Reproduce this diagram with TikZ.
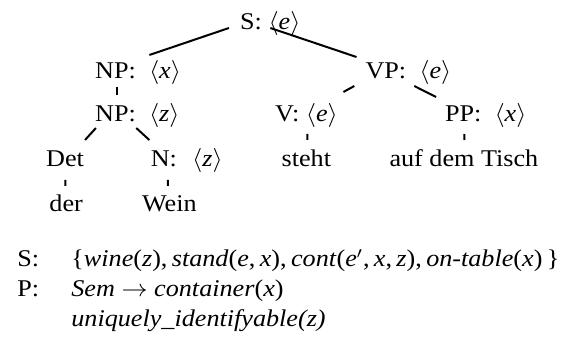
\documentclass[tikz,border=0pt]{standalone}
\usepackage{graphicx}
\usepackage{fontspec}
\setmainfont{Liberation Serif}
\newcommand{\ang}[1]{$\langle$\textit{#1}$\rangle$}
% text set slightly wide, as in the printed figure
\newcommand{\wide}[1]{\scalebox{1.09}[1]{#1}}
\begin{document}
\begin{tikzpicture}[x=0.5pt,y=-0.5pt,
  lbl/.style={anchor=base west,inner sep=0pt,font=\fontsize{12}{14}\selectfont},
  branch/.style={line width=1pt}]
\useasboundingbox (0,0) rectangle (570,337);

\begin{scope}[xscale=1.09]
% tree labels (left edge, baseline)
\node[lbl] (S)    at (220,30)  {\wide{S: \ang{e}}};
\node[lbl] (NPx)  at (87,78)   {\wide{NP:\hspace{6pt}\ang{x}}};
\node[lbl] (VP)   at (335,78)  {\wide{VP:\hspace{6pt}\ang{e}}};
\node[lbl] (NPz)  at (87,121)  {\wide{NP:\hspace{6pt}\ang{z}}};
\node[lbl] (V)    at (252,121) {\wide{V: \ang{e}}};
\node[lbl] (PP)   at (408,121) {\wide{PP:\hspace{6pt}\ang{x}}};
\node[lbl] (Det)  at (42,167)  {\wide{Det}};
\node[lbl] (N)    at (138,167) {\wide{N:\hspace{7pt}\ang{z}}};
\node[lbl] (steht) at (258,167) {\wide{steht}};
\node[lbl] (auf)  at (357,167) {\wide{auf dem Tisch}};
\node[lbl] (der)  at (45,212)  {\wide{der}};
\node[lbl] (Wein) at (130,212) {\wide{Wein}};

% branches
\draw[branch] ([shift={(-10,-2)}]S.base west) -- ([shift={(50,-23)}]NPx.base west);
\draw[branch] ([shift={(28,-2)}]S.base west) -- ([shift={(-8,-21)}]VP.base west);
\draw[branch] ([shift={(20,9)}]NPx.base west) -- ([shift={(20,-26)}]NPz.base west);
\draw[branch] ([shift={(1,7)}]NPz.base west) -- ([shift={(36,-27)}]Det.base west);
\draw[branch] ([shift={(38,7)}]NPz.base west) -- ([shift={(-1,-27)}]N.base west);
\draw[branch] ([shift={(18,13)}]Det.base west) -- ([shift={(15,-26)}]der.base west);
\draw[branch] ([shift={(16,13)}]N.base west) -- ([shift={(24,-26)}]Wein.base west);
\draw[branch] ([shift={(-10,8)}]VP.base west) -- ([shift={(63,-29)}]V.base west);
\draw[branch] ([shift={(45,8)}]VP.base west) -- ([shift={(-8,-24)}]PP.base west);
\draw[branch] ([shift={(30,13)}]V.base west) -- ([shift={(24,-27)}]steht.base west);
\draw[branch] ([shift={(18,13)}]PP.base west) -- ([shift={(69,-27)}]auf.base west);
\end{scope}

% semantics and presuppositions
\node[lbl] (semS) at (17,267) {\wide{S:}};
\node[lbl] (semF) at (71,267) {\wide{\{\textit{wine}(\textit{z}),\,\textit{stand}(\textit{e},\,\textit{x}),\,\textit{cont}(\textit{e}$'$,\,\textit{x},\,\textit{z}),\,\textit{on-table}(\textit{x})\,\}}};
\node[lbl] (preP) at (17,297) {\wide{P:}};
\node[lbl] (preA) at (71,297) {\wide{\textit{Sem} $\rightarrow$ \textit{container}(\textit{x})}};
\node[lbl] (preB) at (71,327) {\wide{\textit{uniquely\_identifyable(z)}}};
\end{tikzpicture}
\end{document}
